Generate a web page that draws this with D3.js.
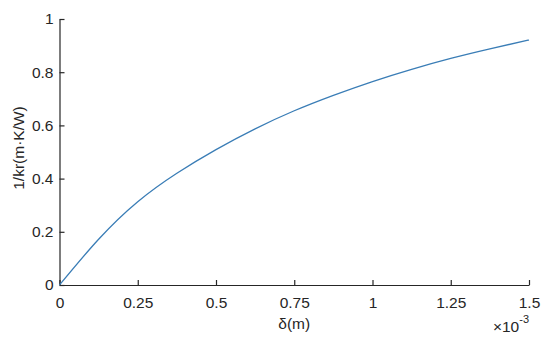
<!DOCTYPE html>
<html>
<head>
<meta charset="utf-8">
<script src="https://cdn.jsdelivr.net/npm/d3@7"></script>
<style>
  body { margin: 0; background: #fff; }
  text { font-family: "Liberation Sans", Arial, sans-serif; fill: #262626; }
</style>
</head>
<body>
<script>
// delta in units of 1e-3 m
const delta = [0, 0.125, 0.25, 0.375, 0.5, 0.625, 0.75, 0.875, 1.0, 1.125, 1.25, 1.375, 1.5];
const invKr = [0, 0.172, 0.313, 0.420, 0.509, 0.587, 0.655, 0.713, 0.765, 0.811, 0.852, 0.888, 0.921];
const xTicks = [0, 0.25, 0.5, 0.75, 1, 1.25, 1.5];
const yTicks = [0, 0.2, 0.4, 0.6, 0.8, 1];

const width = 550, height = 344;
const plotLeft = 59.5, plotRight = 529, plotTop = 19, plotBottom = 285;

const svg = d3.select('body').append('svg')
    .attr('width', width)
    .attr('height', height);

const xScale = d3.scaleLinear().domain([0, 1.5]).range([plotLeft, plotRight]);
const yScale = d3.scaleLinear().domain([0, 1]).range([plotBottom, plotTop]);

// x axis, ticks pointing in
const xAxis = svg.append('g')
    .attr('transform', `translate(0, ${plotBottom})`)
    .call(d3.axisBottom(xScale).tickValues(xTicks).tickSizeInner(-5).tickSizeOuter(0)
        .tickFormat(d => String(d)));

// y axis
const yAxis = svg.append('g')
    .attr('transform', `translate(${plotLeft}, 0)`)
    .call(d3.axisLeft(yScale).tickValues(yTicks).tickSizeInner(-5).tickSizeOuter(0)
        .tickFormat(d => String(d)));

[xAxis, yAxis].forEach(ax => {
    ax.select('.domain').attr('stroke', '#262626').attr('stroke-width', 1.2);
    ax.selectAll('.tick line').attr('stroke', '#262626').attr('stroke-width', 1.2);
    ax.selectAll('.tick text')
        .style('font-family', '"Liberation Sans", Arial, sans-serif')
        .style('font-size', '15.5px')
        .attr('fill', '#262626');
});
xAxis.selectAll('.tick text').attr('y', 12);
yAxis.selectAll('.tick text').attr('x', -6);

// curve
svg.append('path')
    .datum(delta.map((d, i) => [d, invKr[i]]))
    .attr('fill', 'none')
    .attr('stroke', '#3a7db6')
    .attr('stroke-width', 1.3)
    .attr('d', d3.line()
        .x(d => xScale(d[0]))
        .y(d => yScale(d[1]))
        .curve(d3.curveNatural));

// labels
svg.append('text')
    .attr('x', (plotLeft + plotRight) / 2)
    .attr('y', 329)
    .attr('text-anchor', 'middle')
    .style('font-size', '15.5px')
    .text('δ(m)');

svg.append('text')
    .attr('transform', `translate(24, 148) rotate(-90)`)
    .attr('text-anchor', 'middle')
    .style('font-size', '15.5px')
    .text('1/kr(m·K/W)');

const expo = svg.append('text')
    .attr('x', plotRight)
    .attr('y', 332)
    .attr('text-anchor', 'end')
    .style('font-size', '15.5px');
expo.append('tspan').text('×10');
expo.append('tspan').attr('dy', -9).style('font-size', '11px').text('-3');
</script>
</body>
</html>
